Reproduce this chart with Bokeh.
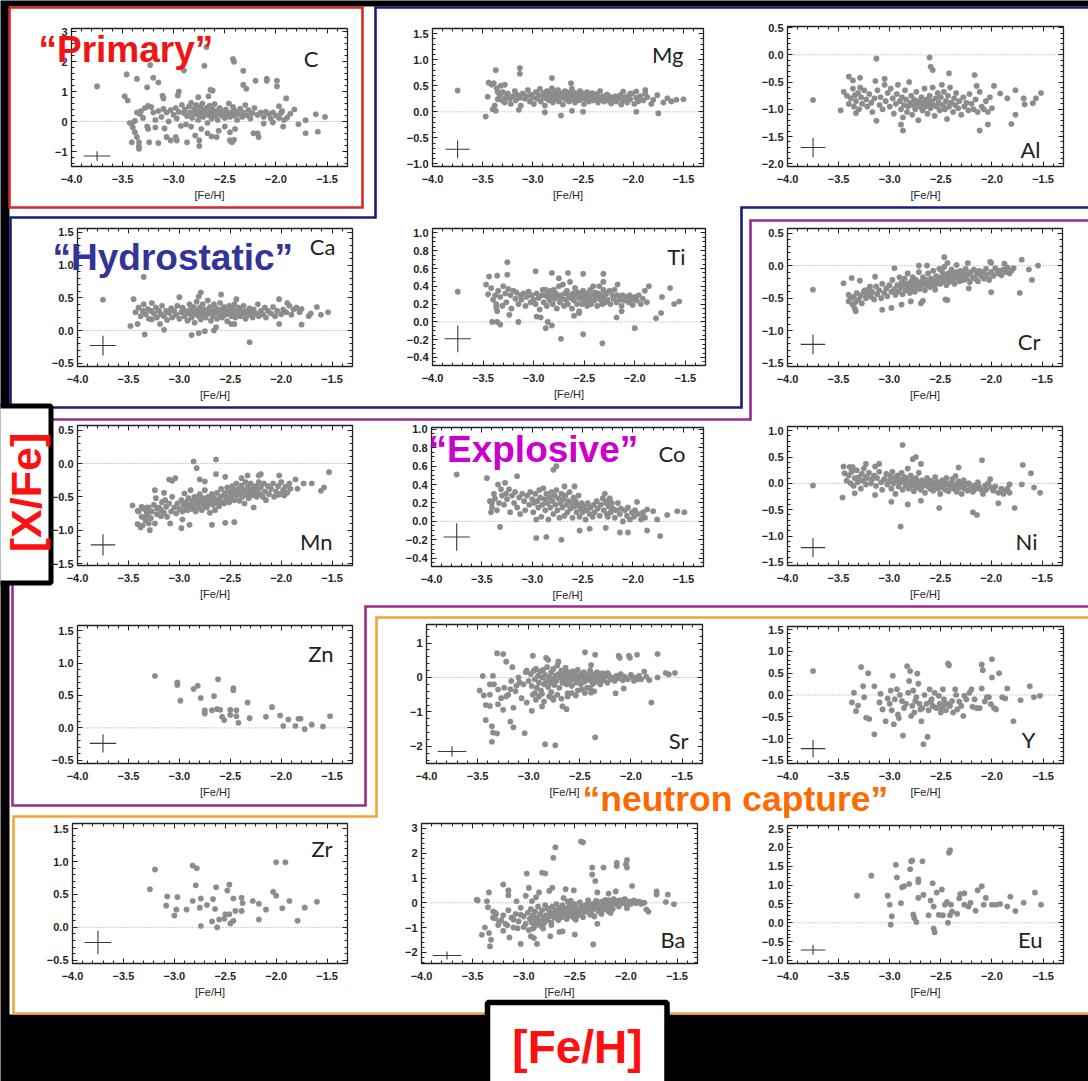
import math
from bokeh.plotting import figure
from bokeh.models import (Range1d, FixedTicker, LinearAxis, Span, Label,
                          CustomJSTickFormatter)
from bokeh.embed import file_html
from bokeh.resources import INLINE
from bokeh.core.properties import value

# ------------------------------------------------------------------ data
X_RANGE = (-4.0, -1.3)
X_TICKS = [-4.0, -3.5, -3.0, -2.5, -2.0, -1.5]
X_MINOR = [-4.0, -3.9, -3.8, -3.7, -3.6, -3.5, -3.4, -3.3, -3.2, -3.1, -3.0,
           -2.9, -2.8, -2.7, -2.6, -2.5, -2.4, -2.3, -2.2, -2.1, -2.0, -1.9,
           -1.8, -1.7, -1.6, -1.5, -1.4, -1.3]

ELEMENTS = ["C", "Mg", "Al", "Ca", "Ti", "Cr", "Mn", "Co", "Ni",
            "Zn", "Sr", "Y", "Zr", "Ba", "Eu"]

Y_RANGES = {"C": (-1.5, 3.1), "Mg": (-1.05, 1.6), "Al": (-2.05, 0.52),
            "Ca": (-0.55, 1.56), "Ti": (-0.49, 1.05), "Cr": (-1.55, 0.57),
            "Mn": (-1.53, 0.57), "Co": (-0.49, 1.02), "Ni": (-1.56, 1.08),
            "Zn": (-0.55, 1.58), "Sr": (-2.5, 1.54), "Y": (-1.57, 1.57),
            "Zr": (-0.55, 1.58), "Ba": (-2.45, 3.2), "Eu": (-1.08, 2.58)}

Y_TICKS = {"C": [-1, 0, 1, 2, 3],
           "Mg": [-1.0, -0.5, 0.0, 0.5, 1.0, 1.5],
           "Al": [-2.0, -1.5, -1.0, -0.5, 0.0, 0.5],
           "Ca": [-0.5, 0.0, 0.5, 1.0, 1.5],
           "Ti": [-0.4, -0.2, 0.0, 0.2, 0.4, 0.6, 0.8, 1.0],
           "Cr": [-1.5, -1.0, -0.5, 0.0, 0.5],
           "Mn": [-1.5, -1.0, -0.5, 0.0, 0.5],
           "Co": [-0.4, -0.2, 0.0, 0.2, 0.4, 0.6, 0.8, 1.0],
           "Ni": [-1.5, -1.0, -0.5, 0.0, 0.5, 1.0],
           "Zn": [-0.5, 0.0, 0.5, 1.0, 1.5],
           "Sr": [-2, -1, 0, 1],
           "Y": [-1.5, -1.0, -0.5, 0.0, 0.5, 1.0, 1.5],
           "Zr": [-0.5, 0.0, 0.5, 1.0, 1.5],
           "Ba": [-2, -1, 0, 1, 2, 3],
           "Eu": [-1.0, -0.5, 0.0, 0.5, 1.0, 1.5, 2.0, 2.5]}
Y_MINOR_STEP = {"C": 0.2, "Mg": 0.1, "Al": 0.1, "Ca": 0.1, "Ti": 0.05,
                "Cr": 0.1, "Mn": 0.1, "Co": 0.05, "Ni": 0.1, "Zn": 0.1,
                "Sr": 0.2, "Y": 0.1, "Zr": 0.1, "Ba": 0.2, "Eu": 0.1}
Y_DECIMALS = {"C": 0, "Sr": 0, "Ba": 0}

# typical error bar (centre [X/Fe], half height, half width) drawn at [Fe/H] = -3.75
ERR_FEH = -3.75
ERRORS = {"C": (-1.15, 0.16, 0.13), "Mg": (-0.72, 0.17, 0.12), "Al": (-1.70, 0.18, 0.12),
          "Ca": (-0.23, 0.15, 0.13), "Ti": (-0.19, 0.15, 0.13), "Cr": (-1.21, 0.15, 0.12),
          "Mn": (-1.22, 0.16, 0.12), "Co": (-0.17, 0.15, 0.13), "Ni": (-1.22, 0.18, 0.12),
          "Zn": (-0.24, 0.14, 0.13), "Sr": (-2.15, 0.15, 0.14), "Y": (-1.23, 0.20, 0.12),
          "Zr": (-0.23, 0.18, 0.13), "Ba": (-2.13, 0.16, 0.14), "Eu": (-0.72, 0.13, 0.12)}

# ([Fe/H], [X/Fe]) star values per element
C_PTS = [(-3.75,1.17),(-3.46,1.57),(-3.36,1.42),(-3.26,1.14),(-3.20,1.46),(-3.15,1.30),(-3.23,1.88),(-2.90,1.70),
 (-2.68,2.48),(-2.70,1.86),(-2.42,2.08),(-2.41,1.99),(-2.32,1.69),(-2.32,1.22),(-2.29,1.09),(-2.20,1.36),
 (-2.09,1.42),(-2.09,1.36),(-1.99,1.36),(-1.99,1.17),(-2.62,1.03),(-2.64,1.06),(-2.95,1.00),(-2.96,0.87),
 (-3.11,0.86),(-3.10,0.77),(-3.48,0.84),(-3.45,0.70),(-2.76,0.81),(-2.66,0.84),(-1.90,0.77),(-1.97,0.51),
 (-3.41,-0.07),(-3.40,-0.20),(-3.38,-0.36),(-3.36,-0.52),(-3.41,-0.69),(-3.34,-0.69),(-3.34,-0.83),(-3.34,-0.91),
 (-3.24,-0.69),(-3.15,-0.72),(-3.25,-0.25),(-3.26,-0.17),(-3.18,-0.20),(-3.09,-0.23),(-3.07,-0.52),(-3.03,-0.63),
 (-2.98,-0.52),(-2.97,-0.63),(-2.87,-0.69),(-2.79,-0.47),(-2.75,-0.63),(-2.75,-0.82),(-2.83,-0.17),(-2.73,-0.25),
 (-2.67,-0.39),(-2.63,-0.50),(-2.58,-0.52),(-2.56,-0.31),(-2.50,-0.17),(-2.45,-0.36),(-2.45,-0.63),(-2.43,-0.69),
 (-2.41,-0.61),(-2.40,-0.25),(-2.22,-0.39),(-2.18,-0.39),(-2.17,-0.52),(-2.12,-0.07),(-2.03,-0.03),(-1.93,-0.17),
 (-1.78,-0.09),(-1.71,-0.39),(-1.59,-0.34),(-1.71,0.04),(-1.61,0.24),(-1.52,0.15),(-1.82,0.40),(-1.86,0.26),
 (-1.89,0.13),(-1.94,0.35),(-3.43,-0.05),(-3.38,0.02),(-3.36,0.30),
 (-3.33,0.25),(-3.32,0.35),(-3.30,0.12),(-3.28,0.45),(-3.25,0.52),(-3.22,0.48),(-3.20,0.30),(-3.18,0.05),
 (-3.15,0.35),(-3.12,0.15),(-3.10,0.42),(-3.07,0.30),(-3.05,0.00),(-3.03,0.38),(-3.00,0.22),(-2.98,0.45),
 (-2.97,0.10),(-2.95,0.32),(-2.93,-0.15),(-2.92,0.55),(-2.90,0.28),(-2.89,0.40),(-2.88,-0.10),(-2.87,0.18),
 (-2.85,0.50),(-2.84,0.30),(-2.83,0.62),(-2.82,0.12),(-2.80,0.42),(-2.79,0.25),(-2.78,0.55),(-2.77,0.35),
 (-2.76,0.05),(-2.75,0.20),(-2.74,0.48),(-2.73,0.30),(-2.72,0.60),(-2.71,0.15),(-2.70,0.38),(-2.69,0.27),
 (-2.68,0.45),(-2.67,-0.05),(-2.66,0.22),(-2.65,0.52),(-2.64,0.33),(-2.63,0.10),(-2.62,0.40),(-2.61,0.25),
 (-2.60,0.58),(-2.59,0.18),(-2.58,0.35),(-2.57,0.05),(-2.56,0.28),(-2.55,0.45),(-2.53,0.20),(-2.52,0.32),
 (-2.50,0.12),(-2.49,0.40),(-2.48,0.25),(-2.46,0.60),(-2.45,0.15),(-2.44,0.30),(-2.42,0.48),(-2.41,0.20),
 (-2.40,0.35),(-2.38,0.05),(-2.37,0.25),(-2.35,0.42),(-2.33,0.15),(-2.32,0.30),(-2.30,0.55),(-2.28,0.20),
 (-2.27,0.38),(-2.25,0.10),(-2.23,0.28),(-2.21,0.45),(-2.18,0.22),(-2.15,0.30),(-2.12,0.15),(-2.10,0.32),
 (-2.07,0.25),(-2.05,0.10),(-2.03,0.30),(-2.00,0.20),(-1.97,0.12),(-1.95,0.28),(-1.92,0.05)]

MG_PTS = [(-3.75,0.41),(-3.47,-0.09),(-3.45,0.29),(-3.44,0.56),(-3.41,0.52),(-3.37,0.80),(-3.39,0.55),(-3.36,0.45),
 (-3.35,0.38),(-3.35,0.24),(-3.33,0.33),(-3.40,0.05),(-3.38,0.12),(-3.37,0.02),(-3.32,0.50),(-3.28,0.52),
 (-3.13,0.73),(-3.13,0.84),(-3.14,0.04),(-2.81,0.65),(-2.62,0.55),(-2.88,-0.01),(-2.72,-0.07),(-2.61,0.02),
 (-2.50,0.00),(-1.97,0.00),(-1.75,-0.03),
 (-1.66,0.26),(-1.57,0.23),(-1.50,0.24),(-1.76,0.32),(-1.80,0.23),(-1.86,0.28),(-1.88,0.42),(-1.97,0.39),
 (-2.03,0.35),(-2.10,0.39),(-1.82,0.15),(-1.70,0.18),(-1.62,0.20),
 (-3.33,0.30),(-3.31,0.22),(-3.30,0.38),(-3.28,0.18),(-3.27,0.28),(-3.25,0.35),(-3.23,0.25),(-3.22,0.15),
 (-3.20,0.30),(-3.18,0.40),(-3.17,0.22),(-3.15,0.32),(-3.13,0.27),(-3.12,0.12),(-3.10,0.35),(-3.08,0.25),
 (-3.06,0.30),(-3.05,0.42),(-3.03,0.20),(-3.02,0.33),(-3.00,0.28),(-2.99,0.15),(-2.97,0.38),(-2.96,0.25),
 (-2.94,0.32),(-2.93,0.44),(-2.92,0.20),(-2.90,0.30),(-2.89,0.36),(-2.88,0.12),(-2.87,0.26),(-2.86,0.40),
 (-2.85,0.32),(-2.84,0.22),(-2.83,0.35),(-2.82,0.28),(-2.81,0.45),(-2.80,0.18),(-2.79,0.30),(-2.78,0.38),
 (-2.77,0.25),(-2.76,0.33),(-2.75,0.42),(-2.74,0.20),(-2.73,0.30),(-2.72,0.36),(-2.71,0.27),(-2.70,0.14),
 (-2.69,0.32),(-2.68,0.40),(-2.67,0.24),(-2.66,0.30),(-2.65,0.37),(-2.64,0.20),(-2.63,0.28),(-2.62,0.34),
 (-2.61,0.44),(-2.60,0.25),(-2.59,0.31),(-2.58,0.18),(-2.57,0.36),(-2.56,0.27),(-2.55,0.33),(-2.54,0.22),
 (-2.53,0.40),(-2.52,0.30),(-2.51,0.26),(-2.50,0.35),(-2.49,0.15),(-2.48,0.30),(-2.47,0.24),(-2.46,0.38),
 (-2.45,0.28),(-2.44,0.20),(-2.43,0.33),(-2.42,0.26),(-2.41,0.36),(-2.40,0.22),(-2.38,0.30),(-2.37,0.25),
 (-2.36,0.34),(-2.35,0.18),(-2.34,0.28),(-2.33,0.40),(-2.32,0.24),(-2.30,0.30),(-2.29,0.20),(-2.28,0.27),
 (-2.26,0.33),(-2.25,0.22),(-2.23,0.29),(-2.22,0.16),(-2.20,0.26),(-2.18,0.30),(-2.17,0.20),(-2.15,0.25),
 (-2.13,0.32),(-2.12,0.14),(-2.10,0.22),(-2.08,0.28),(-2.06,0.18),(-2.05,0.30),(-2.03,0.24),(-2.01,0.35),
 (-1.99,0.15),(-1.97,0.27),(-1.95,0.20),(-1.93,0.30),(-1.90,0.22),(-1.88,0.35)]

AL_PTS = [(-3.75,-0.83),(-3.48,-1.02),(-3.45,-0.68),(-3.40,-0.40),(-3.36,-0.47),(-3.34,-0.74),(-3.29,-0.60),
 (-3.29,-0.42),(-3.33,-1.07),(-3.13,-0.07),(-3.13,-1.21),(-3.14,-0.48),(-3.05,-0.44),(-2.87,-1.39),(-2.89,-1.28),
 (-2.61,-0.05),(-2.60,-0.22),(-2.58,-0.28),(-2.42,-0.34),(-2.17,-0.37),(-2.15,-0.57),(-2.12,-1.39),(-2.04,-1.28),
 (-1.98,-0.57),(-1.81,-1.27),(-1.77,-1.10),(-1.69,-0.80),(-1.68,-0.91),(-1.60,-0.89),(-1.57,-0.80),(-1.52,-0.70),
 (-1.92,-0.71),(-1.85,-0.80),(-1.77,-0.65),
 (-3.42,-0.75),(-3.40,-0.90),(-3.38,-0.80),(-3.36,-0.62),(-3.35,-0.95),(-3.33,-0.85),(-3.31,-0.70),(-3.30,-1.00),
 (-3.28,-0.78),(-3.27,-0.90),(-3.25,-0.65),(-3.23,-0.82),(-3.22,-0.95),(-3.20,-0.72),(-3.18,-0.88),(-3.17,-1.05),
 (-3.15,-0.80),(-3.12,-0.65),(-3.10,-0.92),(-3.09,-0.78),(-3.07,-1.00),(-3.05,-0.55),(-3.04,-0.85),(-3.02,-0.70),
 (-3.00,-0.95),(-2.99,-0.62),(-2.97,-0.80),(-2.96,-1.08),(-2.94,-0.90),(-2.93,-0.72),(-2.92,-0.55),(-2.90,-0.85),
 (-2.89,-1.00),(-2.88,-0.78),(-2.87,-1.15),(-2.86,-0.92),(-2.85,-0.65),(-2.84,-0.82),(-2.83,-1.05),(-2.82,-0.95),
 (-2.81,-0.50),(-2.80,-0.88),(-2.79,-0.75),(-2.78,-1.10),(-2.77,-0.92),(-2.76,-0.82),(-2.75,-1.00),(-2.74,-0.68),
 (-2.73,-0.90),(-2.72,-1.20),(-2.71,-0.85),(-2.70,-0.95),(-2.69,-0.78),(-2.68,-1.02),(-2.67,-0.88),(-2.66,-0.62),
 (-2.65,-0.95),(-2.64,-0.82),(-2.63,-1.08),(-2.62,-0.90),(-2.61,-0.75),(-2.60,-0.98),(-2.59,-0.85),(-2.58,-0.60),
 (-2.57,-0.92),(-2.56,-1.12),(-2.55,-0.80),(-2.54,-0.95),(-2.53,-0.70),(-2.52,-0.88),(-2.51,-1.02),(-2.50,-0.78),
 (-2.49,-0.55),(-2.48,-0.92),(-2.47,-0.68),(-2.46,-1.00),(-2.45,-0.85),(-2.44,-1.18),(-2.43,-0.75),(-2.42,-0.95),
 (-2.41,-0.60),(-2.40,-0.88),(-2.38,-1.05),(-2.37,-0.80),(-2.36,-0.92),(-2.35,-0.70),(-2.33,-0.98),(-2.32,-0.85),
 (-2.30,-1.10),(-2.28,-0.78),(-2.27,-0.95),(-2.25,-0.88),(-2.23,-1.02),(-2.22,-0.72),(-2.20,-0.90),(-2.18,-1.00),
 (-2.16,-0.82),(-2.14,-1.05),(-2.12,-0.68),(-2.10,-0.95),(-2.08,-1.00),(-2.06,-0.85),(-2.04,-1.05),(-2.02,-0.78),
 (-2.00,-0.98)]

CA_PTS = [(-3.75,0.47),(-3.35,0.82),(-3.48,0.07),(-3.41,0.10),(-3.45,0.48),(-3.34,-0.06),(-3.15,0.01),(-3.00,0.51),
 (-2.81,0.52),(-2.79,0.58),(-2.59,0.55),(-2.44,0.48),(-2.31,-0.18),(-2.88,-0.07),(-2.81,-0.04),(-2.75,-0.01),
 (-2.66,0.00),(-2.64,0.05),(-2.49,0.10),(-2.46,0.10),(-2.02,0.10),(-1.80,0.09),(-2.02,0.48),(-1.94,0.42),
 (-1.73,0.22),(-1.71,0.26),(-1.65,0.36),(-1.61,0.24),(-1.54,0.28),(-3.19,0.10),(-3.27,0.17),
 (-3.43,0.28),(-3.40,0.35),(-3.38,0.22),(-3.36,0.30),(-3.35,0.40),(-3.33,0.25),(-3.31,0.33),(-3.30,0.18),
 (-3.28,0.30),(-3.27,0.42),(-3.25,0.26),(-3.23,0.35),(-3.22,0.20),(-3.20,0.30),(-3.18,0.25),(-3.17,0.38),
 (-3.15,0.22),(-3.13,0.30),(-3.12,0.16),(-3.10,0.27),(-3.08,0.34),(-3.07,0.20),(-3.05,0.30),(-3.03,0.24),
 (-3.02,0.38),(-3.00,0.18),(-2.98,0.28),(-2.97,0.35),(-2.95,0.22),(-2.94,0.30),(-2.92,0.15),(-2.91,0.26),
 (-2.90,0.40),(-2.89,0.32),(-2.88,0.20),(-2.87,0.28),(-2.86,0.36),(-2.85,0.12),(-2.84,0.25),(-2.83,0.44),
 (-2.82,0.30),(-2.81,0.22),(-2.80,0.35),(-2.79,0.17),(-2.78,0.28),(-2.77,0.40),(-2.76,0.24),(-2.75,0.32),
 (-2.74,0.20),(-2.73,0.30),(-2.72,0.46),(-2.71,0.26),(-2.70,0.36),(-2.69,0.15),(-2.68,0.30),(-2.67,0.22),
 (-2.66,0.40),(-2.65,0.28),(-2.64,0.34),(-2.63,0.18),(-2.62,0.30),(-2.61,0.25),(-2.60,0.42),(-2.59,0.32),
 (-2.58,0.20),(-2.57,0.28),(-2.56,0.36),(-2.55,0.24),(-2.54,0.30),(-2.53,0.14),(-2.52,0.26),(-2.51,0.38),
 (-2.50,0.30),(-2.49,0.22),(-2.48,0.33),(-2.47,0.27),(-2.46,0.40),(-2.45,0.20),(-2.44,0.30),(-2.43,0.25),
 (-2.42,0.35),(-2.40,0.22),(-2.39,0.30),(-2.37,0.38),(-2.36,0.26),(-2.35,0.18),(-2.34,0.30),(-2.32,0.24),
 (-2.31,0.34),(-2.30,0.28),(-2.28,0.20),(-2.27,0.32),(-2.25,0.26),(-2.23,0.40),(-2.22,0.22),(-2.20,0.30),
 (-2.18,0.25),(-2.16,0.35),(-2.15,0.20),(-2.13,0.30),(-2.10,0.26),(-2.08,0.36),(-2.06,0.22),(-2.04,0.30),
 (-2.00,0.25),(-1.98,0.32),(-1.95,0.28),(-1.92,0.38),(-1.90,0.24),(-1.88,0.32),(-1.85,0.35),(-1.82,0.28),
 (-1.80,0.33)]

TI_PTS = [(-3.75,0.34),(-3.47,0.42),(-3.45,0.31),(-3.44,0.51),(-3.36,0.52),(-3.26,0.53),(-3.26,0.67),(-3.41,0.00),
 (-3.36,0.00),(-3.33,-0.03),(-3.36,0.12),(-3.37,0.16),(-3.24,0.08),(-3.15,0.00),(-2.98,0.57),(-2.97,0.06),
 (-2.93,0.05),(-2.88,-0.07),(-2.86,0.00),(-2.82,-0.04),(-2.73,-0.19),(-2.82,0.55),(-2.75,0.49),(-2.66,0.55),
 (-2.51,0.54),(-2.51,-0.14),(-2.32,-0.24),(-2.31,0.54),(-2.31,0.45),(-2.17,0.42),(-2.18,0.05),(-2.13,0.12),
 (-2.00,-0.07),(-1.86,0.40),(-1.79,0.04),(-1.74,0.10),(-1.73,0.28),(-1.65,0.38),(-1.61,0.20),(-1.56,0.23),
 (-2.60,0.07),(-2.55,0.10),
 (-3.42,0.38),(-3.40,0.25),(-3.38,0.30),(-3.37,0.20),(-3.35,0.35),(-3.33,0.28),(-3.31,0.18),(-3.30,0.40),
 (-3.28,0.32),(-3.27,0.22),(-3.25,0.37),(-3.23,0.30),(-3.22,0.15),(-3.20,0.35),(-3.18,0.26),(-3.17,0.33),
 (-3.15,0.20),(-3.13,0.30),(-3.12,0.25),(-3.10,0.32),(-3.08,0.18),(-3.07,0.28),(-3.05,0.34),(-3.03,0.22),
 (-3.02,0.30),(-3.00,0.25),(-2.98,0.20),(-2.97,0.32),(-2.95,0.27),(-2.94,0.14),(-2.92,0.30),(-2.91,0.36),
 (-2.90,0.22),(-2.89,0.30),(-2.88,0.36),(-2.87,0.18),(-2.86,0.28),(-2.85,0.33),(-2.84,0.24),(-2.83,0.35),
 (-2.82,0.30),(-2.81,0.20),(-2.80,0.36),(-2.79,0.26),(-2.78,0.32),(-2.77,0.15),(-2.76,0.28),(-2.75,0.40),
 (-2.74,0.22),(-2.73,0.30),(-2.72,0.26),(-2.71,0.42),(-2.70,0.18),(-2.69,0.32),(-2.68,0.25),(-2.67,0.35),
 (-2.66,0.20),(-2.65,0.30),(-2.64,0.45),(-2.63,0.27),(-2.62,0.15),(-2.61,0.32),(-2.60,0.24),(-2.59,0.38),
 (-2.58,0.28),(-2.57,0.20),(-2.56,0.33),(-2.55,0.12),(-2.54,0.26),(-2.53,0.30),(-2.52,0.20),(-2.51,0.35),
 (-2.50,0.27),(-2.49,0.22),(-2.48,0.32),(-2.47,0.18),(-2.46,0.30),(-2.45,0.25),(-2.44,0.36),(-2.43,0.20),
 (-2.42,0.30),(-2.41,0.40),(-2.40,0.24),(-2.39,0.33),(-2.38,0.28),(-2.37,0.18),(-2.36,0.32),(-2.35,0.40),
 (-2.34,0.25),(-2.33,0.30),(-2.32,0.20),(-2.31,0.36),(-2.30,0.27),(-2.29,0.22),(-2.28,0.32),(-2.27,0.25),
 (-2.25,0.35),(-2.24,0.20),(-2.22,0.30),(-2.21,0.26),(-2.20,0.36),(-2.18,0.22),(-2.17,0.30),(-2.15,0.25),
 (-2.13,0.18),(-2.12,0.30),(-2.10,0.24),(-2.08,0.28),(-2.06,0.22),(-2.05,0.30),(-2.03,0.25),(-2.02,0.19),
 (-2.00,0.28),(-1.98,0.24),(-1.96,0.30),(-1.94,0.20),(-1.92,0.26),(-1.90,0.35),(-1.88,0.22)]

CR_PTS = [(-3.75,-0.37),(-3.45,-0.27),(-3.40,-0.45),(-3.37,-0.19),(-3.34,-0.66),(-3.33,-0.70),(-3.29,-0.23),
 (-3.24,-0.38),(-3.19,-0.32),(-3.14,-0.17),(-3.07,-0.68),(-2.98,-0.65),(-2.95,-0.04),(-2.88,-0.60),(-2.79,-0.55),
 (-2.71,0.00),(-2.69,-0.58),(-2.67,-0.54),(-2.63,0.00),(-2.55,-0.37),(-2.46,0.13),(-2.45,-0.52),(-2.43,-0.53),
 (-2.43,0.04),(-2.34,0.01),(-2.23,0.04),(-2.22,-0.35),(-2.00,-0.41),(-2.01,0.06),(-2.00,0.04),(-1.87,0.03),
 (-1.78,-0.04),(-1.72,-0.42),(-1.70,0.09),(-1.63,-0.06),(-1.60,-0.22),(-1.54,0.00),
 (-3.40,-0.55),(-3.38,-0.50),(-3.36,-0.60),(-3.35,-0.48),(-3.33,-0.56),(-3.32,-0.42),(-3.30,-0.52),(-3.28,-0.46),
 (-3.27,-0.58),(-3.25,-0.40),(-3.23,-0.50),(-3.22,-0.44),(-3.20,-0.36),(-3.18,-0.48),(-3.17,-0.40),(-3.15,-0.52),
 (-3.13,-0.32),(-3.12,-0.44),(-3.10,-0.38),(-3.08,-0.50),(-3.07,-0.28),(-3.05,-0.42),(-3.03,-0.35),(-3.02,-0.47),
 (-3.00,-0.30),(-2.98,-0.40),(-2.97,-0.22),(-2.95,-0.36),(-2.94,-0.45),(-2.92,-0.30),(-2.91,-0.40),(-2.90,-0.18),
 (-2.89,-0.34),(-2.88,-0.26),(-2.87,-0.44),(-2.86,-0.30),(-2.85,-0.20),(-2.84,-0.38),(-2.83,-0.28),(-2.82,-0.12),
 (-2.81,-0.33),(-2.80,-0.42),(-2.79,-0.25),(-2.78,-0.35),(-2.77,-0.18),(-2.76,-0.30),(-2.75,-0.40),(-2.74,-0.22),
 (-2.73,-0.32),(-2.72,-0.27),(-2.71,-0.10),(-2.70,-0.36),(-2.69,-0.25),(-2.68,-0.30),(-2.67,-0.18),(-2.66,-0.28),
 (-2.65,-0.38),(-2.64,-0.22),(-2.63,-0.30),(-2.62,-0.12),(-2.61,-0.26),(-2.60,-0.33),(-2.59,-0.20),(-2.58,-0.28),
 (-2.57,-0.08),(-2.56,-0.24),(-2.55,-0.30),(-2.54,-0.16),(-2.53,-0.26),(-2.52,-0.20),(-2.51,-0.05),(-2.50,-0.28),
 (-2.49,-0.18),(-2.48,-0.10),(-2.47,-0.24),(-2.46,-0.02),(-2.45,-0.15),(-2.44,-0.30),(-2.43,-0.20),(-2.42,-0.12),
 (-2.41,-0.25),(-2.40,-0.16),(-2.39,-0.06),(-2.38,-0.22),(-2.37,-0.13),(-2.36,-0.28),(-2.35,-0.18),(-2.34,-0.10),
 (-2.33,-0.20),(-2.32,-0.14),(-2.31,-0.24),(-2.30,-0.08),(-2.29,-0.18),(-2.28,-0.12),(-2.27,-0.22),(-2.26,-0.15),
 (-2.25,-0.05),(-2.24,-0.20),(-2.22,-0.12),(-2.21,-0.25),(-2.20,-0.10),(-2.18,-0.18),(-2.17,-0.06),(-2.16,-0.20),
 (-2.14,-0.12),(-2.13,-0.24),(-2.12,-0.08),(-2.10,-0.16),(-2.08,-0.10),(-2.07,-0.20),(-2.05,-0.05),(-2.04,-0.14),
 (-2.02,-0.22),(-2.00,-0.10),(-1.98,-0.16),(-1.96,-0.04),(-1.94,-0.12),(-1.92,-0.08),(-1.90,-0.15),(-1.88,-0.06),
 (-1.86,-0.10),(-1.84,-0.03),(-1.82,-0.12),(-1.80,-0.08)]

MN_PTS = [(-3.46,-0.63),(-3.41,-0.71),(-3.41,-0.91),(-3.38,-0.96),(-3.36,-0.93),(-3.34,-0.81),(-3.37,-0.65),
 (-3.31,-0.77),(-3.30,-0.90),(-3.29,-1.00),(-3.32,-0.66),(-3.24,-0.40),(-3.23,-0.52),(-3.22,-0.67),(-3.18,-0.79),
 (-3.15,-0.44),(-3.14,-0.55),(-3.10,-0.24),(-3.09,-0.90),(-3.07,-0.26),(-3.04,-0.22),(-2.98,-0.97),(-2.97,-0.84),
 (-2.90,-0.92),(-2.86,0.03),(-2.83,-0.07),(-2.80,-0.24),(-2.75,-0.27),(-2.68,-0.92),(-2.64,0.06),(-2.64,-0.16),
 (-2.55,-0.89),(-2.46,-0.88),(-2.55,-0.20),(-2.39,-0.22),(-2.33,-0.18),(-2.22,-0.18),(-2.20,-0.16),(-2.02,-0.18),
 (-1.86,-0.24),(-1.78,-0.30),(-1.61,-0.41),(-1.58,-0.36),(-1.53,-0.13),(-1.70,-0.30),(-1.84,-0.38),(-1.91,-0.38),
 (-1.97,-0.48),(-2.03,-0.47),
 (-3.40,-0.72),(-3.37,-0.80),(-3.35,-0.68),(-3.33,-0.86),(-3.32,-0.74),(-3.30,-0.66),(-3.28,-0.82),(-3.27,-0.72),
 (-3.25,-0.62),(-3.24,-0.90),(-3.22,-0.76),(-3.20,-0.66),(-3.18,-0.70),(-3.17,-0.58),(-3.15,-0.74),(-3.13,-0.65),
 (-3.12,-0.80),(-3.10,-0.60),(-3.08,-0.72),(-3.07,-0.50),(-3.05,-0.66),(-3.03,-0.75),(-3.02,-0.60),(-3.00,-0.68),
 (-2.98,-0.55),(-2.97,-0.72),(-2.96,-0.62),(-2.95,-0.45),(-2.94,-0.66),(-2.93,-0.58),(-2.92,-0.70),(-2.91,-0.52),
 (-2.90,-0.62),(-2.89,-0.40),(-2.88,-0.68),(-2.87,-0.56),(-2.86,-0.64),(-2.85,-0.50),(-2.84,-0.72),(-2.83,-0.60),
 (-2.82,-0.54),(-2.81,-0.66),(-2.80,-0.46),(-2.79,-0.58),(-2.78,-0.70),(-2.77,-0.52),(-2.76,-0.62),(-2.75,-0.40),
 (-2.74,-0.56),(-2.73,-0.66),(-2.72,-0.50),(-2.71,-0.60),(-2.70,-0.74),(-2.69,-0.54),(-2.68,-0.46),(-2.67,-0.62),
 (-2.66,-0.52),(-2.65,-0.70),(-2.64,-0.58),(-2.63,-0.44),(-2.62,-0.55),(-2.61,-0.64),(-2.60,-0.50),(-2.59,-0.38),
 (-2.58,-0.58),(-2.57,-0.48),(-2.56,-0.60),(-2.55,-0.44),(-2.54,-0.52),(-2.53,-0.36),(-2.52,-0.50),(-2.51,-0.58),
 (-2.50,-0.42),(-2.49,-0.50),(-2.48,-0.34),(-2.47,-0.46),(-2.46,-0.55),(-2.45,-0.40),(-2.44,-0.30),(-2.43,-0.48),
 (-2.42,-0.38),(-2.41,-0.56),(-2.40,-0.44),(-2.39,-0.33),(-2.38,-0.50),(-2.37,-0.40),(-2.36,-0.60),(-2.35,-0.28),
 (-2.34,-0.46),(-2.33,-0.36),(-2.32,-0.52),(-2.31,-0.42),(-2.30,-0.30),(-2.29,-0.48),(-2.28,-0.38),(-2.27,-0.66),
 (-2.26,-0.44),(-2.25,-0.34),(-2.24,-0.50),(-2.23,-0.40),(-2.22,-0.28),(-2.21,-0.46),(-2.20,-0.36),(-2.18,-0.50),
 (-2.17,-0.30),(-2.16,-0.42),(-2.15,-0.55),(-2.13,-0.34),(-2.12,-0.46),(-2.10,-0.38),(-2.08,-0.30),(-2.07,-0.50),
 (-2.05,-0.42),(-2.03,-0.34),(-2.01,-0.46),(-2.00,-0.28),(-1.98,-0.40),(-1.96,-0.35),(-1.94,-0.44),(-1.92,-0.30)]

CO_PTS = [(-3.75,0.51),(-3.45,0.47),(-3.32,-0.06),(-3.40,0.20),(-3.41,0.10),(-3.15,0.49),(-2.79,0.56),(-2.76,0.60),
 (-2.96,-0.18),(-2.86,-0.17),(-2.71,-0.20),(-2.68,0.38),(-2.58,0.38),(-2.53,-0.10),(-2.43,-0.08),(-2.25,0.05),
 (-2.27,-0.07),(-2.13,-0.12),(-2.05,-0.12),(-1.96,0.21),(-1.86,-0.10),(-1.73,-0.16),(-1.66,0.07),(-1.56,0.11),
 (-1.49,0.10),(-1.86,0.13),(-1.80,0.11),(-1.76,0.02),(-1.90,0.06),
 (-3.42,0.22),(-3.40,0.15),(-3.38,0.30),(-3.37,0.25),(-3.35,0.12),(-3.34,0.40),(-3.33,0.20),(-3.31,0.35),
 (-3.30,0.28),(-3.28,0.18),(-3.27,0.42),(-3.26,0.30),(-3.25,0.24),(-3.23,0.35),(-3.22,0.10),(-3.20,0.28),
 (-3.18,0.20),(-3.17,0.32),(-3.15,0.15),(-3.13,0.26),(-3.12,0.08),(-3.10,0.30),(-3.08,0.22),(-3.07,0.12),
 (-3.05,0.28),(-3.03,0.18),(-3.02,0.32),(-3.00,0.24),(-2.99,0.10),(-2.98,0.20),(-2.97,0.30),(-2.96,0.02),
 (-2.95,0.22),(-2.94,0.15),(-2.93,0.34),(-2.92,0.26),(-2.91,0.05),(-2.90,0.18),(-2.89,0.36),(-2.88,0.24),
 (-2.87,0.12),(-2.86,0.30),(-2.85,0.20),(-2.84,0.02),(-2.83,0.26),(-2.82,0.15),(-2.81,0.32),(-2.80,0.22),
 (-2.79,0.08),(-2.78,0.28),(-2.77,0.18),(-2.76,0.34),(-2.75,0.12),(-2.74,0.25),(-2.73,0.04),(-2.72,0.20),
 (-2.71,0.30),(-2.70,0.15),(-2.69,0.24),(-2.68,0.06),(-2.67,0.28),(-2.66,0.18),(-2.65,0.10),(-2.64,0.22),
 (-2.63,0.32),(-2.62,0.14),(-2.61,0.20),(-2.60,0.04),(-2.59,0.26),(-2.58,0.16),(-2.57,0.22),(-2.56,0.10),
 (-2.55,0.18),(-2.54,0.28),(-2.53,0.05),(-2.52,0.14),(-2.51,0.20),(-2.50,0.10),(-2.48,0.16),(-2.47,0.02),
 (-2.46,0.12),(-2.45,0.20),(-2.43,0.08),(-2.42,0.15),(-2.40,0.05),(-2.39,0.18),(-2.38,0.10),(-2.36,0.22),
 (-2.35,0.14),(-2.33,0.06),(-2.32,0.18),(-2.30,0.25),(-2.29,0.12),(-2.28,0.30),(-2.27,0.20),(-2.26,0.08),
 (-2.25,0.22),(-2.24,0.16),(-2.23,0.25),(-2.22,0.10),(-2.21,0.20),(-2.20,0.14),(-2.18,0.04),(-2.17,0.12),
 (-2.15,0.20),(-2.13,0.08),(-2.12,0.14),(-2.10,0.00),(-2.08,0.12),(-2.06,0.06),(-2.05,0.15),(-2.03,0.02),
 (-2.01,0.10),(-1.99,0.05),(-1.98,0.12),(-1.95,0.08),(-1.92,0.02),(-1.90,0.10),(-1.88,0.04)]

NI_PTS = [(-3.75,-0.04),(-3.46,-0.27),(-3.45,0.32),(-3.44,0.19),(-3.39,0.31),(-3.36,0.31),(-3.34,-0.19),(-3.23,0.37),
 (-3.23,0.12),(-3.14,-0.22),(-3.14,0.32),(-3.10,0.37),(-2.98,-0.35),(-2.89,-0.82),(-2.87,0.73),(-2.82,-0.40),
 (-2.77,0.46),(-2.74,0.50),(-2.69,0.37),(-2.69,-0.33),(-2.51,-0.47),(-2.32,0.30),(-2.18,-0.55),(-2.14,-0.60),
 (-2.09,0.44),(-2.01,0.08),(-1.93,-0.38),(-1.82,-0.02),(-1.77,-0.47),(-1.69,0.35),(-1.70,-0.02),(-1.61,0.19),
 (-1.58,-0.08),(-1.52,-0.18),
 (-3.42,0.05),(-3.40,0.15),(-3.38,0.00),(-3.37,0.22),(-3.35,-0.05),(-3.34,0.10),(-3.32,0.25),(-3.31,0.02),
 (-3.30,0.12),(-3.28,-0.10),(-3.27,0.18),(-3.26,0.05),(-3.25,0.28),(-3.23,-0.02),(-3.22,0.10),(-3.20,0.20),
 (-3.18,0.00),(-3.17,0.08),(-3.15,0.15),(-3.13,-0.05),(-3.12,0.10),(-3.10,0.22),(-3.08,0.02),(-3.07,-0.12),
 (-3.05,0.08),(-3.03,0.18),(-3.02,-0.02),(-3.00,0.05),(-2.99,0.14),(-2.98,-0.10),(-2.97,0.22),(-2.96,0.00),
 (-2.95,0.10),(-2.94,-0.20),(-2.93,0.04),(-2.92,0.15),(-2.91,-0.06),(-2.90,0.08),(-2.89,0.02),(-2.88,0.20),
 (-2.87,-0.12),(-2.86,0.05),(-2.85,0.12),(-2.84,-0.04),(-2.83,0.08),(-2.82,0.28),(-2.81,-0.10),(-2.80,0.02),
 (-2.79,0.15),(-2.78,-0.05),(-2.77,0.06),(-2.76,-0.15),(-2.75,0.00),(-2.74,0.10),(-2.73,-0.08),(-2.72,0.04),
 (-2.71,0.20),(-2.70,-0.02),(-2.69,-0.12),(-2.68,0.06),(-2.67,-0.05),(-2.66,0.02),(-2.65,-0.18),(-2.64,0.00),
 (-2.63,0.10),(-2.62,-0.06),(-2.61,0.02),(-2.60,-0.10),(-2.59,0.05),(-2.58,-0.02),(-2.57,-0.14),(-2.56,0.00),
 (-2.55,0.12),(-2.54,-0.06),(-2.53,0.03),(-2.52,-0.10),(-2.51,0.00),(-2.50,-0.20),(-2.49,-0.04),(-2.48,0.06),
 (-2.47,-0.08),(-2.46,0.02),(-2.45,-0.12),(-2.44,0.10),(-2.43,-0.02),(-2.42,-0.15),(-2.41,0.00),(-2.40,-0.06),
 (-2.38,0.08),(-2.37,-0.10),(-2.36,-0.02),(-2.35,0.14),(-2.34,-0.16),(-2.33,-0.05),(-2.32,0.04),(-2.31,-0.08),
 (-2.30,-0.02),(-2.29,-0.20),(-2.28,-0.06),(-2.27,0.06),(-2.26,-0.10),(-2.25,-0.02),(-2.23,-0.14),(-2.22,0.00),
 (-2.20,-0.08),(-2.18,-0.16),(-2.17,-0.04),(-2.15,-0.10),(-2.13,0.02),(-2.12,-0.06),(-2.10,-0.12),(-2.08,-0.20),
 (-2.06,-0.04),(-2.05,-0.12),(-2.03,0.00),(-2.00,-0.08),(-1.98,-0.14),(-1.96,-0.06),(-1.93,-0.18),(-1.90,-0.10),
 (-1.88,-0.20),(-1.86,-0.14),(-1.84,-0.10),(-1.82,-0.18)]

ZN_PTS = [(-3.24,0.80),(-3.02,0.70),(-3.02,0.66),(-2.99,0.42),(-2.86,0.60),(-2.82,0.65),(-2.79,0.46),(-2.75,0.27),
 (-2.75,0.22),(-2.68,0.27),(-2.66,0.49),(-2.62,0.75),(-2.63,0.29),(-2.60,0.28),(-2.58,0.17),(-2.56,0.12),
 (-2.50,0.28),(-2.50,0.20),(-2.47,0.61),(-2.47,0.58),(-2.44,0.27),(-2.44,0.18),(-2.42,0.08),(-2.33,0.39),
 (-2.31,0.15),(-2.15,0.17),(-2.09,0.32),(-2.01,0.19),(-1.98,0.03),(-1.93,0.13),(-1.86,0.03),(-1.83,0.14),
 (-1.81,0.14),(-1.77,-0.02),(-1.70,0.05),(-1.59,0.02),(-1.52,0.18)]

SR_PTS = [(-3.45,0.04),(-3.48,-0.38),(-3.44,-0.52),(-3.42,-0.80),(-3.42,-1.24),(-3.36,-1.87),(-3.36,-1.42),
 (-3.35,-1.60),(-3.31,-1.63),(-3.38,-0.83),(-3.38,-0.20),(-3.35,0.05),(-3.31,0.70),(-3.25,0.68),(-3.30,-0.78),
 (-3.25,-0.94),(-3.22,-0.55),(-3.22,0.46),(-3.18,-0.34),(-3.16,0.30),(-3.15,-0.88),(-3.18,-1.28),(-3.15,-1.45),
 (-3.12,-0.24),(-3.09,-0.15),(-3.04,-1.62),(-3.02,-0.73),(-3.02,0.20),(-2.97,-0.97),(-2.96,0.63),(-2.94,-0.45),
 (-2.87,-0.84),(-2.83,0.57),(-2.81,0.51),(-2.84,-1.94),(-2.74,-1.97),(-2.76,-0.65),(-2.71,0.46),(-2.67,-0.84),
 (-2.63,-0.92),(-2.65,0.17),(-2.62,-0.46),(-2.54,-0.52),(-2.45,0.73),(-2.39,0.36),(-2.35,0.66),(-2.35,-1.74),
 (-2.39,-0.44),(-2.31,-0.03),(-2.23,0.13),(-2.15,-0.46),(-2.12,0.63),(-2.11,0.57),(-2.02,0.63),(-2.01,0.57),
 (-2.07,-0.32),(-1.94,0.66),(-1.87,0.17),(-1.80,-0.73),(-1.74,0.68),(-1.74,0.00),(-1.66,0.13),(-1.63,0.09),
 (-1.57,0.13),(-1.93,-0.05),(-1.98,0.00),
 (-3.38,-0.50),(-3.34,-0.20),(-3.30,-0.35),(-3.27,-0.60),(-3.24,-0.30),(-3.20,-0.50),(-3.17,-0.10),(-3.13,-0.40),
 (-3.10,0.00),(-3.07,-0.60),(-3.05,-0.20),(-3.03,0.15),(-2.96,-0.50),(-2.93,-0.65),(-2.90,-0.55),(-2.87,-0.48),
 (-2.85,-0.70),(-2.80,-0.55),(-2.78,-0.42),(-2.76,-0.60),(-2.72,-0.50),(-2.68,-0.62),(-2.62,-0.55),(-2.58,-0.45),
 (-2.52,-0.38),(-2.48,-0.35),(-2.45,-0.45),(-2.40,-0.30),(-2.36,-0.40),
 (-3.00,-0.10),(-2.98,0.10),(-2.97,-0.25),(-2.95,0.20),(-2.94,-0.05),(-2.93,0.25),(-2.92,-0.30),(-2.91,0.05),
 (-2.90,-0.15),(-2.89,0.18),(-2.88,-0.38),(-2.87,0.00),(-2.86,0.22),(-2.85,-0.20),(-2.84,0.08),(-2.83,-0.10),
 (-2.82,0.30),(-2.81,-0.28),(-2.80,0.02),(-2.79,-0.15),(-2.78,0.15),(-2.77,-0.05),(-2.76,0.25),(-2.75,-0.22),
 (-2.74,0.05),(-2.73,-0.10),(-2.72,0.35),(-2.71,0.10),(-2.70,-0.30),(-2.69,0.00),(-2.68,0.20),(-2.67,-0.15),
 (-2.66,0.08),(-2.65,-0.05),(-2.64,0.28),(-2.63,-0.20),(-2.62,0.02),(-2.61,0.15),(-2.60,-0.10),(-2.59,0.05),
 (-2.58,-0.25),(-2.57,0.18),(-2.56,-0.05),(-2.55,0.10),(-2.54,-0.15),(-2.53,0.00),(-2.52,0.22),(-2.51,-0.08),
 (-2.50,0.05),(-2.49,-0.20),(-2.48,0.10),(-2.47,-0.02),(-2.46,0.15),(-2.45,-0.12),(-2.44,0.00),(-2.43,-0.30),
 (-2.42,0.08),(-2.41,-0.05),(-2.40,0.20),(-2.39,-0.10),(-2.38,0.02),(-2.37,-0.18),(-2.36,0.10),(-2.35,0.00),
 (-2.34,-0.12),(-2.33,0.15),(-2.32,-0.05),(-2.31,0.05),(-2.30,-0.20),(-2.29,0.00),(-2.28,0.12),(-2.27,-0.08),
 (-2.25,0.02),(-2.23,-0.15),(-2.22,0.08),(-2.20,-0.05),(-2.18,0.00),(-2.16,-0.10),(-2.14,0.05),(-2.12,-0.02),
 (-2.10,0.10),(-2.08,-0.08),(-2.06,0.02),(-2.03,-0.05),(-2.00,0.08),(-1.97,-0.10),(-1.95,0.00),(-1.92,0.05),
 (-1.90,-0.05),(-1.85,0.02),(-1.82,-0.08)]

Y_PTS = [(-3.75,0.55),(-3.37,-0.17),(-3.35,0.05),(-3.33,-0.37),(-3.31,-0.24),(-3.28,0.64),(-3.26,0.20),(-3.25,-0.05),
 (-3.23,-0.52),(-3.21,0.50),(-3.20,-0.55),(-3.15,-0.90),(-3.15,0.20),(-3.10,-0.17),(-3.09,0.03),(-3.07,-0.33),
 (-3.04,-0.60),(-3.02,-0.08),(-2.99,0.10),(-2.97,0.44),(-2.96,-0.67),(-2.93,0.13),(-2.91,-0.53),(-2.88,-0.14),
 (-2.87,-0.93),(-2.83,0.66),(-2.80,0.55),(-2.81,0.32),(-2.79,-0.48),(-2.77,0.10),(-2.75,-0.14),(-2.73,0.49),
 (-2.72,0.26),(-2.70,-0.33),(-2.69,-0.60),(-2.67,-1.13),(-2.63,-0.96),(-2.61,0.13),(-2.59,-0.10),(-2.55,-0.29),
 (-2.52,-0.02),(-2.50,-0.40),(-2.48,0.13),(-2.43,0.72),(-2.42,0.68),(-2.46,-0.21),(-2.39,-0.14),(-2.36,0.13),
 (-2.34,-0.33),(-2.28,-0.48),(-2.27,-0.02),(-2.20,0.13),(-2.19,-0.27),(-2.15,-0.30),(-2.10,0.15),(-2.10,0.70),
 (-2.09,0.57),(-2.05,-0.05),(-2.01,-0.21),(-2.00,0.82),(-2.00,0.40),(-1.96,-0.33),(-1.93,0.50),(-1.90,-0.05),
 (-1.87,-0.08),(-1.85,0.15),(-1.79,-0.60),(-1.72,-0.12),(-1.63,0.20),(-1.59,-0.05),(-1.53,-0.02),
 (-3.00,-0.20),(-2.98,-0.35),(-2.95,-0.10),(-2.92,-0.45),(-2.90,0.00),(-2.86,-0.30),(-2.84,-0.20),(-2.82,0.05),
 (-2.78,-0.25),(-2.76,-0.40),(-2.74,-0.05),(-2.71,-0.20),(-2.68,-0.30),(-2.66,0.00),(-2.64,-0.20),(-2.62,-0.35),
 (-2.60,-0.15),(-2.58,-0.25),(-2.56,0.05),(-2.54,-0.30),(-2.51,-0.20),(-2.49,-0.30),(-2.47,-0.10),(-2.45,-0.35),
 (-2.44,-0.20),(-2.41,-0.25),(-2.38,-0.40),(-2.35,0.00),(-2.32,-0.15),(-2.30,-0.25),(-2.25,-0.10),(-2.22,0.05),
 (-2.17,-0.10),(-2.12,-0.30),(-2.07,-0.15),(-2.03,-0.05),(-1.98,-0.30)]

ZR_PTS = [(-3.24,0.58),(-3.19,0.88),(-3.08,0.33),(-3.07,0.47),(-3.00,0.18),(-2.98,0.27),(-2.97,0.46),(-2.88,0.27),
 (-2.82,0.40),(-2.82,0.94),(-2.78,0.90),(-2.79,0.64),(-2.75,0.30),(-2.74,0.02),(-2.74,0.44),(-2.68,0.34),
 (-2.63,0.09),(-2.62,0.43),(-2.60,0.28),(-2.59,0.61),(-2.58,0.00),(-2.56,0.12),(-2.51,0.13),(-2.50,0.20),
 (-2.48,0.56),(-2.46,0.65),(-2.46,0.20),(-2.45,0.06),(-2.42,0.10),(-2.42,0.44),(-2.40,0.25),(-2.34,0.25),
 (-2.34,0.45),(-2.33,0.37),(-2.23,0.40),(-2.17,0.36),(-2.17,0.12),(-2.10,0.27),(-2.03,0.54),(-2.00,0.48),
 (-2.00,0.99),(-1.91,0.99),(-1.94,0.29),(-1.87,0.40),(-1.79,0.10),(-1.72,0.30),(-1.60,0.39)]

BA_PTS = [(-3.46,0.12),(-3.45,0.09),(-3.41,-1.29),(-3.38,-1.00),(-3.36,0.06),(-3.34,0.42),(-3.34,-1.22),(-3.33,-1.76),
 (-3.32,-1.49),(-3.35,-0.18),(-3.30,-0.35),(-3.28,-0.62),(-3.27,-0.45),(-3.24,-0.78),(-3.20,0.74),(-3.20,-1.13),
 (-3.16,-0.91),(-3.15,0.50),(-3.15,0.30),(-3.14,-1.40),(-3.10,-0.68),(-3.07,0.06),(-3.06,-1.03),(-3.03,-1.66),
 (-3.03,-0.48),(-3.00,-0.98),(-2.98,0.28),(-2.97,1.18),(-2.95,0.60),(-2.93,-1.35),(-2.93,-0.63),(-2.92,0.06),
 (-2.91,-1.04),(-2.90,-1.42),(-2.88,0.22),(-2.88,-0.70),(-2.87,-1.66),(-2.85,0.42),(-2.82,1.21),(-2.79,1.18),
 (-2.81,-1.04),(-2.79,-0.56),(-2.77,-0.22),(-2.75,0.48),(-2.74,-1.35),(-2.73,-0.90),(-2.72,0.61),(-2.71,1.82),
 (-2.69,2.24),(-2.67,-0.35),(-2.65,-1.18),(-2.63,-0.22),(-2.62,-1.15),(-2.61,0.19),(-2.59,0.55),(-2.58,-0.48),
 (-2.55,-0.10),(-2.54,0.08),(-2.51,0.50),(-2.50,-1.28),(-2.49,-0.68),(-2.48,-0.45),(-2.44,2.47),(-2.42,2.44),
 (-2.41,-0.34),(-2.38,-0.08),(-2.35,-0.48),(-2.33,1.42),(-2.33,1.14),(-2.32,-1.68),(-2.30,0.88),(-2.30,0.00),
 (-2.28,0.42),(-2.28,-0.85),(-2.24,0.03),(-2.22,1.42),(-2.18,-0.22),(-2.17,0.37),(-2.15,-0.41),(-2.10,0.46),
 (-2.09,1.61),(-2.09,1.48),(-2.07,0.09),(-2.00,1.55),(-1.99,1.73),(-1.99,1.42),(-1.99,-0.22),(-1.94,0.68),
 (-1.92,0.09),(-1.88,0.03),(-1.83,0.00),(-1.80,-0.27),(-1.78,-0.36),(-1.70,0.46),(-1.70,0.33),(-1.61,0.03),
 (-1.59,0.33),(-1.53,-0.06),
 (-3.30,-0.60),(-3.28,-0.40),(-3.25,-0.90),(-3.22,-0.70),(-3.20,-0.50),(-3.18,-0.85),(-3.15,-0.30),(-3.12,-0.60),
 (-3.10,-1.00),(-3.08,-0.45),(-3.05,-0.75),(-3.03,-0.20),(-3.00,-0.55),(-2.98,-0.85),(-2.96,-0.40),(-2.95,-1.10),
 (-2.94,-0.65),(-2.93,-0.25),(-2.92,-0.80),(-2.91,-0.50),(-2.90,-1.00),(-2.89,-0.35),(-2.88,-0.90),(-2.87,-0.60),
 (-2.86,-0.15),(-2.85,-0.75),(-2.84,-0.45),(-2.83,-0.95),(-2.82,-0.30),(-2.81,-0.62),(-2.80,-0.82),(-2.79,-0.10),
 (-2.78,-0.50),(-2.77,-0.70),(-2.76,-0.25),(-2.75,-0.55),(-2.74,-0.38),(-2.73,-0.80),(-2.72,-0.15),(-2.71,-0.45),
 (-2.70,-0.60),(-2.69,-0.30),(-2.68,-0.05),(-2.67,-0.50),(-2.66,-0.70),(-2.65,-0.20),(-2.64,-0.40),(-2.63,-0.58),
 (-2.62,-0.10),(-2.61,-0.32),(-2.60,-0.48),(-2.59,-0.22),(-2.58,-0.65),(-2.57,0.05),(-2.56,-0.35),(-2.55,-0.52),
 (-2.54,-0.15),(-2.53,-0.42),(-2.52,-0.28),(-2.51,-0.60),(-2.50,-0.05),(-2.49,-0.38),(-2.48,-0.20),(-2.47,-0.50),
 (-2.46,-0.30),(-2.45,0.02),(-2.44,-0.42),(-2.43,-0.15),(-2.42,-0.58),(-2.41,-0.25),(-2.40,-0.10),(-2.39,-0.36),
 (-2.38,-0.20),(-2.37,0.10),(-2.36,-0.30),(-2.35,-0.15),(-2.34,-0.42),(-2.33,-0.05),(-2.32,-0.25),(-2.31,-0.55),
 (-2.30,-0.12),(-2.29,0.08),(-2.28,-0.20),(-2.27,-0.35),(-2.26,0.00),(-2.25,-0.15),(-2.24,-0.45),(-2.23,0.05),
 (-2.22,-0.28),(-2.21,-0.10),(-2.20,0.12),(-2.19,-0.20),(-2.18,-0.05),(-2.17,-0.35),(-2.16,0.10),(-2.15,-0.12),
 (-2.14,0.00),(-2.13,-0.25),(-2.12,0.15),(-2.10,-0.05),(-2.08,0.05),(-2.07,-0.15),(-2.05,0.10),(-2.03,-0.02),
 (-2.01,0.15),(-1.99,-0.10),(-1.97,0.05),(-1.95,-0.05),(-1.93,0.08),(-1.90,-0.02),(-1.87,0.05),(-1.85,-0.05),
 (-1.82,0.00)]

EU_PTS = [(-3.32,0.72),(-3.18,1.25),(-3.02,0.72),(-3.00,0.48),(-2.99,-0.05),(-2.98,0.17),(-2.94,1.54),(-2.93,1.20),
 (-2.89,0.52),(-2.88,0.94),(-2.86,0.97),(-2.81,1.03),(-2.79,1.63),(-2.78,1.65),(-2.80,1.42),(-2.77,0.22),
 (-2.76,0.13),(-2.74,0.02),(-2.72,0.66),(-2.72,1.08),(-2.72,1.15),(-2.68,1.63),(-2.67,0.74),(-2.62,0.20),
 (-2.60,0.59),(-2.58,1.05),(-2.57,0.43),(-2.57,-0.15),(-2.56,-0.25),(-2.54,0.80),(-2.52,0.21),(-2.49,0.88),
 (-2.48,0.20),(-2.46,0.48),(-2.44,0.55),(-2.42,1.86),(-2.41,1.92),(-2.43,0.00),(-2.41,0.20),(-2.40,0.48),
 (-2.39,0.30),(-2.34,0.24),(-2.32,0.65),(-2.31,0.76),(-2.27,0.48),(-2.27,0.78),(-2.23,0.43),(-2.21,0.53),
 (-2.16,0.32),(-2.14,0.86),(-2.10,0.97),(-2.08,0.48),(-2.06,0.66),(-2.00,0.48),(-1.96,0.48),(-1.92,0.50),
 (-1.85,0.43),(-1.82,0.69),(-1.77,0.31),(-1.69,0.53),(-1.58,0.80),(-1.52,0.48)]

POINTS = {"C": C_PTS, "Mg": MG_PTS, "Al": AL_PTS, "Ca": CA_PTS, "Ti": TI_PTS,
          "Cr": CR_PTS, "Mn": MN_PTS, "Co": CO_PTS, "Ni": NI_PTS, "Zn": ZN_PTS,
          "Sr": SR_PTS, "Y": Y_PTS, "Zr": ZR_PTS, "Ba": BA_PTS, "Eu": EU_PTS}

GROUP_LABELS = ["\u201cPrimary\u201d", "\u201cHydrostatic\u201d", "\u201cExplosive\u201d", "\u201cneutron capture\u201d"]
AXIS_TITLES = ["[X/Fe]", "[Fe/H]"]

# ------------------------------------------------------------------ layout / style
W, H = 1088, 1081
ML, MR, MT, MB = 56, 18, 18, 46
FRAMES = {"C": (71, 28, 347, 166), "Mg": (432, 28, 703, 166), "Al": (787, 26, 1063, 166),
          "Ca": (77, 228, 352, 366), "Ti": (432, 228, 705, 365), "Cr": (787, 228, 1062, 366),
          "Mn": (77, 425, 352, 565), "Co": (431, 427, 703, 566), "Ni": (787, 426, 1062, 565),
          "Zn": (77, 625, 352, 763), "Sr": (426, 624, 702, 763), "Y": (787, 626, 1063, 763),
          "Zr": (72, 823, 347, 963), "Ba": (421, 823, 697, 963), "Eu": (787, 825, 1063, 963)}
# element label: (gap from frame right, baseline below frame top) in px
LABEL_POS = {"C": (29, 39), "Mg": (20, 35), "Al": (23, 132), "Ca": (17, 27), "Ti": (20, 37),
             "Cr": (22, 122), "Mn": (20, 125), "Co": (18, 35), "Ni": (25, 124), "Zn": (19, 37),
             "Sr": (14, 125), "Y": (28, 122), "Zr": (15, 34), "Ba": (12, 125), "Eu": (21, 123)}
LABEL_FS = 22
BASE_K_LATO = 0.40   # renderer places the alphabetic anchor this many em above the glyph baseline
BASE_K_LIB = 0.35

TICK_FONT = "Liberation Sans"
INK = "#222222"
DOT = "#8c8c8c"

JS_FMT = ("var s = Math.abs(tick).toFixed(d);"
          "if (tick < -1e-9) { s = '\\u2212' + s; } return s;")


def style_axis(ax, show):
    ax.axis_line_color = None
    ax.major_tick_in = 5
    ax.major_tick_out = 0
    ax.minor_tick_in = 3
    ax.minor_tick_out = 0
    ax.major_tick_line_color = INK
    ax.minor_tick_line_color = INK
    ax.major_tick_line_width = 1
    ax.minor_tick_line_width = 1
    if show:
        ax.major_label_text_font = TICK_FONT
        ax.major_label_text_font_size = "11px"
        ax.major_label_text_font_style = "bold"
        ax.major_label_text_color = "#262626"
    else:
        ax.major_label_text_font_size = "0px"
        ax.major_label_standoff = 0


def make_panel(el):
    l, t, r, b = FRAMES[el]
    fw, fh = r - l, b - t
    y0, y1 = Y_RANGES[el]
    p = figure(width=fw + ML + MR, height=fh + MT + MB,
               x_range=Range1d(*X_RANGE), y_range=Range1d(y0, y1),
               output_backend="svg", toolbar_location=None, tools="",
               min_border_left=ML, min_border_right=MR,
               min_border_top=MT, min_border_bottom=MB,
               background_fill_color=None, border_fill_color=None,
               outline_line_color=INK, outline_line_width=1.3)
    p.styles = {"position": "absolute", "left": f"{l - ML}px", "top": f"{t - MT}px"}
    p.grid.visible = False

    step = Y_MINOR_STEP[el]
    minor = [round(k * step, 4) for k in range(math.ceil(y0 / step), math.floor(y1 / step) + 1)]
    xt = FixedTicker(ticks=X_TICKS, minor_ticks=X_MINOR)
    yt = FixedTicker(ticks=Y_TICKS[el], minor_ticks=minor)
    dec = Y_DECIMALS.get(el, 1)

    xa = p.xaxis[0]
    xa.ticker = xt
    xa.formatter = CustomJSTickFormatter(args=dict(d=1), code=JS_FMT)
    style_axis(xa, True)
    xa.major_label_standoff = 8
    xa.axis_label = "[Fe/H]"
    xa.axis_label_text_font = TICK_FONT
    xa.axis_label_text_font_size = "11px"
    xa.axis_label_text_font_style = "normal"
    xa.axis_label_text_color = "#262626"
    xa.axis_label_standoff = 3

    ya = p.yaxis[0]
    ya.ticker = yt
    ya.formatter = CustomJSTickFormatter(args=dict(d=dec), code=JS_FMT)
    style_axis(ya, True)
    ya.major_label_standoff = 4

    top = LinearAxis(ticker=xt, formatter=CustomJSTickFormatter(code="return '';"))
    style_axis(top, False)
    p.add_layout(top, "above")
    right = LinearAxis(ticker=yt, formatter=CustomJSTickFormatter(code="return '';"))
    style_axis(right, False)
    p.add_layout(right, "right")

    p.add_layout(Span(location=0, dimension="width", line_color="#9a9a9a",
                      line_dash="1 2", line_width=1, level="underlay"))

    pts = POINTS[el]
    p.scatter([q[0] for q in pts], [q[1] for q in pts], size=5.6,
              fill_color=DOT, line_color=DOT, line_width=0.3)

    cy, vy, hx = ERRORS[el]
    p.segment(x0=[ERR_FEH - hx, ERR_FEH], y0=[cy, cy - vy],
              x1=[ERR_FEH + hx, ERR_FEH], y1=[cy, cy + vy],
              line_color="#3a3a3a", line_width=1.1)

    pxx = fw / (X_RANGE[1] - X_RANGE[0])
    pxy = fh / (y1 - y0)
    gap, base = LABEL_POS[el]
    base -= BASE_K_LATO * LABEL_FS
    p.add_layout(Label(x=X_RANGE[1] - gap / pxx, y=y1 - base / pxy, text=el,
                       text_align="right", text_baseline="alphabetic",
                       text_font="Lato", text_font_size=f"{LABEL_FS}px", text_color=INK))
    return p


def sheet(bg):
    p = figure(width=W, height=H, x_range=Range1d(0, W), y_range=Range1d(H, 0),
               output_backend="svg", toolbar_location=None, tools="",
               min_border=0, x_axis_type=None, y_axis_type=None,
               background_fill_color=bg, border_fill_color=bg,
               outline_line_color=None)
    p.styles = {"position": "absolute", "left": "0px", "top": "0px"}
    return p


# backdrop: black page, white slide area and the coloured group outlines
back = sheet("black")
back.quad(left=[9], right=[W], top=[6], bottom=[1014], fill_color="white", line_color=None)
OUTLINES = [
    ("#d32a2a", [9, 362, 362, 9, 9], [7, 7, 207, 207, 7]),
    ("#1c1c78", [W, 375, 375, 10, 10, 741, 741, W], [7, 7, 217, 217, 407, 407, 207, 207]),
    ("#9a2a8c", [W, 750, 750, 12, 12, 365, 365, W], [220, 220, 419, 419, 805, 805, 606, 606]),
    ("#f0a336", [W, 376, 376, 13, 13, W], [617, 617, 816, 816, 1013, 1013]),
]
for col, xs, ys in OUTLINES:
    back.line(xs, ys, line_color=col, line_width=2.6, line_join="miter")

panels = [make_panel(el) for el in ELEMENTS]

# overlay: axis-title boxes and group names
over = sheet(None)
over.quad(left=[-10], right=[50.5], top=[405.5], bottom=[582.5],
          fill_color="white", line_color="black", line_width=5)
over.quad(left=[487], right=[666.5], top=[1002], bottom=[1100],
          fill_color="white", line_color="black", line_width=5.5)
BOLD = dict(text_font=value("Liberation Sans"), text_font_style="bold")
TITLE_FS = 46
YTITLE_FS = 43
over.text(x=[25.5], y=[492], text=[AXIS_TITLES[0]], angle=math.pi / 2,
          text_align="center", text_baseline="alphabetic",
          text_font_size=f"{YTITLE_FS}px", text_color="#ff1010", **BOLD)
over.text(x=[577], y=[1063 - BASE_K_LIB * TITLE_FS], text=[AXIS_TITLES[1]],
          text_align="center", text_baseline="alphabetic",
          text_font_size=f"{TITLE_FS}px", text_color="#ff1010", **BOLD)
GROUP_POS = [(38, 62, 37, "#f01414"), (52, 270, 37, "#333399"),
             (428, 462, 37, "#cc00cc"), (582, 811, 35.5, "#ff6a00")]
for lab, (gx, gy, fs, col) in zip(GROUP_LABELS, GROUP_POS):
    over.text(x=[gx], y=[gy - BASE_K_LIB * fs], text=[lab], text_align="left",
              text_baseline="alphabetic", text_font_size=f"{fs}px", text_color=col, **BOLD)

# every figure is its own root, absolutely placed on the page
p = [back] + panels + [over]

open("out.html", "w").write(file_html(p, INLINE))
